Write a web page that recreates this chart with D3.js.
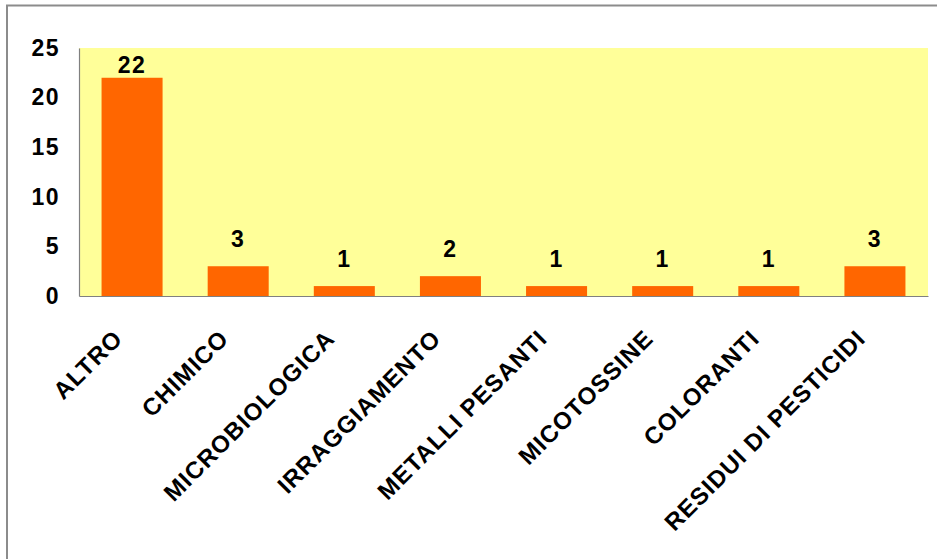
<!DOCTYPE html>
<html>
<head>
<meta charset="utf-8">
<script src="https://cdn.jsdelivr.net/npm/d3@7"></script>
<style>
  html, body { margin: 0; padding: 0; background: #ffffff; }
  svg { display: block; }
  text { font-family: "Liberation Sans", Arial, sans-serif; font-weight: bold; fill: #000; }
</style>
</head>
<body>
<svg id="chart" width="937" height="559"></svg>
<script>
// Categories and counts
const categories = ["ALTRO", "CHIMICO", "MICROBIOLOGICA", "IRRAGGIAMENTO",
                    "METALLI PESANTI", "MICOTOSSINE", "COLORANTI", "RESIDUI DI PESTICIDI"];
const counts = [22, 3, 1, 2, 1, 1, 1, 3];
const yTicks = [0, 5, 10, 15, 20, 25];

const W = 937, H = 559;
const plot = { left: 79, right: 928, top: 48, bottom: 296 };

const svg = d3.select("#chart");

// Outer frame
svg.append("rect")
  .attr("x", 7).attr("y", 5.5)
  .attr("width", W + 10).attr("height", H + 10)
  .attr("fill", "#ffffff")
  .attr("stroke", "#8c8c8c")
  .attr("stroke-width", 2);

const x = d3.scaleBand()
  .domain(categories)
  .range([plot.left, plot.right])
  .paddingInner(0.425)
  .paddingOuter(0.2125);

const y = d3.scaleLinear()
  .domain([0, 25])
  .range([plot.bottom, plot.top]);

// Plot background
svg.append("rect")
  .attr("x", plot.left).attr("y", plot.top)
  .attr("width", plot.right - plot.left)
  .attr("height", plot.bottom - plot.top)
  .attr("fill", "#FFFF99");

// Bars
svg.append("g").selectAll("rect")
  .data(categories)
  .join("rect")
  .attr("x", d => x(d))
  .attr("y", (d, i) => y(counts[i]))
  .attr("width", x.bandwidth())
  .attr("height", (d, i) => y(0) - y(counts[i]))
  .attr("fill", "#FF6600");

// Y axis (labels only, gray spine)
const yAxis = d3.axisLeft(y).tickValues(yTicks).tickSize(0).tickPadding(19);
const gy = svg.append("g")
  .attr("transform", `translate(${plot.left},0)`)
  .call(yAxis);
gy.select(".domain").attr("stroke", "#808080").attr("stroke-width", 1.2);
gy.selectAll("text")
  .attr("font-size", 23)
  .attr("letter-spacing", 1.5)
  .attr("font-family", "Liberation Sans, Arial, sans-serif")
  .attr("font-weight", "bold")
  .attr("fill", "#000");

// X axis with rotated category labels
const xAxis = d3.axisBottom(x).tickSize(0).tickPadding(0);
const gx = svg.append("g")
  .attr("transform", `translate(0,${plot.bottom})`)
  .call(xAxis);
gx.select(".domain").attr("stroke", "#808080").attr("stroke-width", 1.2);
gx.selectAll("text")
  .attr("font-size", 24)
  .attr("letter-spacing", 1)
  .attr("font-family", "Liberation Sans, Arial, sans-serif")
  .attr("font-weight", "bold")
  .attr("fill", "#000")
  .attr("text-anchor", "end")
  .attr("dy", null)
  .attr("y", null)
  .attr("transform", "translate(-8,44) rotate(-45)");

// Value labels above bars
svg.append("g").selectAll("text")
  .data(categories)
  .join("text")
  .attr("x", d => x(d) + x.bandwidth() / 2)
  .attr("y", (d, i) => Math.max(y(counts[i]) - 19, plot.top + 25))
  .attr("text-anchor", "middle")
  .attr("font-size", 23)
  .attr("letter-spacing", 1.5)
  .text((d, i) => counts[i]);
</script>
</body>
</html>
